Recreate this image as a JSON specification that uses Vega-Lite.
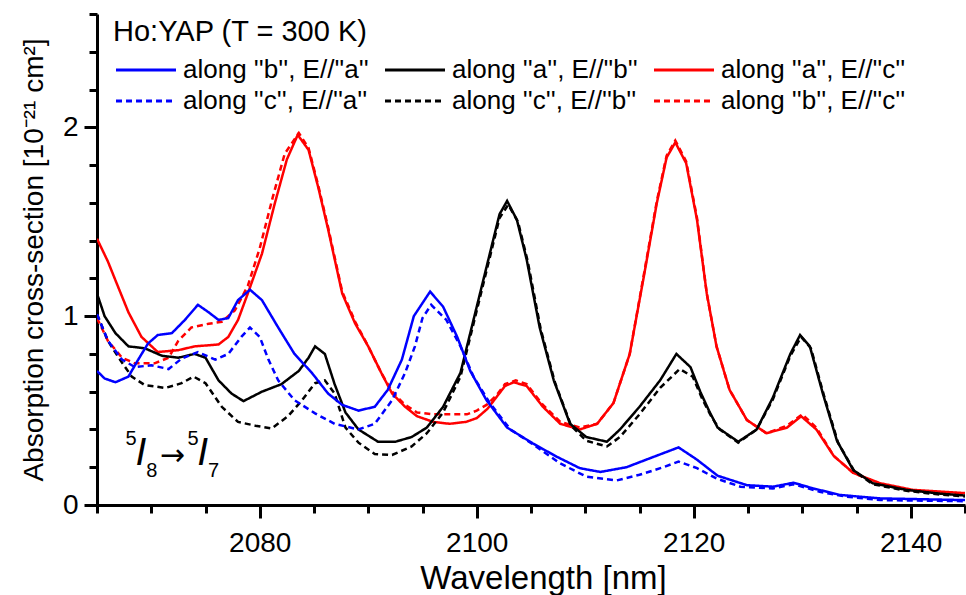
{
  "$schema": "https://vega.github.io/schema/vega-lite/v6.json",
  "width": 868,
  "height": 491,
  "autosize": {"type": "none"},
  "padding": {"left": 97, "top": 14, "right": 1, "bottom": 90},
  "background": "white",
  "config": {
    "font": "Liberation Sans",
    "view": {"stroke": null},
    "axis": {
      "grid": false,
      "domainColor": "black",
      "domainWidth": 3,
      "tickColor": "black",
      "tickWidth": 3,
      "labelColor": "black",
      "titleColor": "black",
      "titleFontWeight": "normal",
      "labelFont": "Liberation Sans",
      "titleFont": "Liberation Sans",
      "labelOverlap": false
    }
  },
  "resolve": {"axis": {"x": "independent", "y": "independent"}},
  "datasets": {
    "names": [
      {"c": "bs", "series": "along ''b'', E//''a''"},
      {"c": "ks", "series": "along ''a'', E//''b''"},
      {"c": "rs", "series": "along ''a'', E//''c''"},
      {"c": "bd", "series": "along ''c'', E//''a''"},
      {"c": "kd", "series": "along ''c'', E//''b''"},
      {"c": "rd", "series": "along ''b'', E//''c''"}
    ],
    "curves": [
      {"c":"rs","x":2065.0,"y":1.41},{"c":"rs","x":2066.0,"y":1.29},{"c":"rs","x":2066.7,"y":1.19},{"c":"rs","x":2067.9,"y":1.02},{"c":"rs","x":2069.1,"y":0.89},{"c":"rs","x":2070.6,"y":0.81},{"c":"rs","x":2072.5,"y":0.82},{"c":"rs","x":2074.0,"y":0.84},{"c":"rs","x":2076.2,"y":0.85},{"c":"rs","x":2077.1,"y":0.89},{"c":"rs","x":2078.0,"y":0.98},{"c":"rs","x":2078.9,"y":1.12},{"c":"rs","x":2080.2,"y":1.33},{"c":"rs","x":2081.4,"y":1.60},{"c":"rs","x":2082.5,"y":1.83},{"c":"rs","x":2083.5,"y":1.96},{"c":"rs","x":2084.5,"y":1.88},{"c":"rs","x":2085.4,"y":1.68},{"c":"rs","x":2086.3,"y":1.46},{"c":"rs","x":2087.6,"y":1.12},{"c":"rs","x":2088.8,"y":0.96},{"c":"rs","x":2090.0,"y":0.84},{"c":"rs","x":2091.2,"y":0.70},{"c":"rs","x":2092.2,"y":0.59},{"c":"rs","x":2093.4,"y":0.52},{"c":"rs","x":2094.5,"y":0.47},{"c":"rs","x":2096.0,"y":0.44},{"c":"rs","x":2097.5,"y":0.43},{"c":"rs","x":2099.0,"y":0.44},{"c":"rs","x":2100.0,"y":0.46},{"c":"rs","x":2101.0,"y":0.51},{"c":"rs","x":2101.8,"y":0.57},{"c":"rs","x":2102.6,"y":0.63},{"c":"rs","x":2103.4,"y":0.65},{"c":"rs","x":2104.6,"y":0.63},{"c":"rs","x":2106.1,"y":0.52},{"c":"rs","x":2107.7,"y":0.43},{"c":"rs","x":2109.5,"y":0.40},{"c":"rs","x":2111.1,"y":0.43},{"c":"rs","x":2112.6,"y":0.54},{"c":"rs","x":2114.1,"y":0.80},{"c":"rs","x":2115.4,"y":1.21},{"c":"rs","x":2116.6,"y":1.60},{"c":"rs","x":2117.5,"y":1.84},{"c":"rs","x":2118.3,"y":1.92},{"c":"rs","x":2119.3,"y":1.81},{"c":"rs","x":2120.3,"y":1.51},{"c":"rs","x":2121.2,"y":1.12},{"c":"rs","x":2122.1,"y":0.84},{"c":"rs","x":2123.3,"y":0.61},{"c":"rs","x":2124.9,"y":0.45},{"c":"rs","x":2126.7,"y":0.38},{"c":"rs","x":2128.6,"y":0.41},{"c":"rs","x":2129.9,"y":0.47},{"c":"rs","x":2131.3,"y":0.40},{"c":"rs","x":2132.9,"y":0.26},{"c":"rs","x":2134.7,"y":0.17},{"c":"rs","x":2137.2,"y":0.115},{"c":"rs","x":2140.2,"y":0.08},{"c":"rs","x":2145.0,"y":0.063},

      {"c":"rd","x":2065.0,"y":0.99},{"c":"rd","x":2066.0,"y":0.87},{"c":"rd","x":2067.3,"y":0.78},{"c":"rd","x":2068.5,"y":0.75},{"c":"rd","x":2070.3,"y":0.75},{"c":"rd","x":2071.6,"y":0.78},{"c":"rd","x":2072.5,"y":0.87},{"c":"rd","x":2073.7,"y":0.94},{"c":"rd","x":2075.3,"y":0.96},{"c":"rd","x":2076.5,"y":0.97},{"c":"rd","x":2077.7,"y":1.03},{"c":"rd","x":2078.9,"y":1.16},{"c":"rd","x":2080.0,"y":1.36},{"c":"rd","x":2081.2,"y":1.63},{"c":"rd","x":2082.3,"y":1.86},{"c":"rd","x":2083.6,"y":1.97},{"c":"rd","x":2084.5,"y":1.89},{"c":"rd","x":2085.4,"y":1.69},{"c":"rd","x":2086.3,"y":1.47},{"c":"rd","x":2087.6,"y":1.13},{"c":"rd","x":2088.8,"y":0.97},{"c":"rd","x":2090.0,"y":0.84},{"c":"rd","x":2091.2,"y":0.70},{"c":"rd","x":2092.2,"y":0.60},{"c":"rd","x":2093.4,"y":0.53},{"c":"rd","x":2094.5,"y":0.49},{"c":"rd","x":2096.0,"y":0.48},{"c":"rd","x":2097.5,"y":0.48},{"c":"rd","x":2099.1,"y":0.48},{"c":"rd","x":2100.0,"y":0.50},{"c":"rd","x":2100.9,"y":0.53},{"c":"rd","x":2101.8,"y":0.58},{"c":"rd","x":2102.6,"y":0.64},{"c":"rd","x":2103.6,"y":0.66},{"c":"rd","x":2104.6,"y":0.64},{"c":"rd","x":2106.1,"y":0.53},{"c":"rd","x":2107.7,"y":0.44},{"c":"rd","x":2109.5,"y":0.41},{"c":"rd","x":2111.1,"y":0.43},{"c":"rd","x":2112.6,"y":0.54},{"c":"rd","x":2114.1,"y":0.80},{"c":"rd","x":2115.4,"y":1.22},{"c":"rd","x":2116.6,"y":1.61},{"c":"rd","x":2117.5,"y":1.85},{"c":"rd","x":2118.3,"y":1.93},{"c":"rd","x":2119.3,"y":1.82},{"c":"rd","x":2120.3,"y":1.52},{"c":"rd","x":2121.2,"y":1.12},{"c":"rd","x":2122.1,"y":0.84},{"c":"rd","x":2123.3,"y":0.61},{"c":"rd","x":2124.9,"y":0.45},{"c":"rd","x":2126.7,"y":0.38},{"c":"rd","x":2128.6,"y":0.42},{"c":"rd","x":2130.0,"y":0.48},{"c":"rd","x":2131.3,"y":0.41},{"c":"rd","x":2132.9,"y":0.26},{"c":"rd","x":2134.7,"y":0.17},{"c":"rd","x":2137.2,"y":0.11},{"c":"rd","x":2140.2,"y":0.075},{"c":"rd","x":2145.0,"y":0.06},

      {"c":"ks","x":2065.0,"y":1.12},{"c":"ks","x":2065.7,"y":1.00},{"c":"ks","x":2066.7,"y":0.91},{"c":"ks","x":2067.9,"y":0.84},{"c":"ks","x":2069.4,"y":0.83},{"c":"ks","x":2071.0,"y":0.79},{"c":"ks","x":2072.5,"y":0.78},{"c":"ks","x":2074.0,"y":0.80},{"c":"ks","x":2075.0,"y":0.78},{"c":"ks","x":2076.2,"y":0.66},{"c":"ks","x":2077.4,"y":0.59},{"c":"ks","x":2078.5,"y":0.55},{"c":"ks","x":2080.2,"y":0.60},{"c":"ks","x":2082.0,"y":0.64},{"c":"ks","x":2083.6,"y":0.71},{"c":"ks","x":2084.5,"y":0.78},{"c":"ks","x":2085.1,"y":0.84},{"c":"ks","x":2086.0,"y":0.80},{"c":"ks","x":2086.9,"y":0.64},{"c":"ks","x":2087.9,"y":0.49},{"c":"ks","x":2089.1,"y":0.40},{"c":"ks","x":2090.9,"y":0.335},{"c":"ks","x":2092.5,"y":0.335},{"c":"ks","x":2094.0,"y":0.36},{"c":"ks","x":2095.4,"y":0.41},{"c":"ks","x":2096.9,"y":0.52},{"c":"ks","x":2098.5,"y":0.70},{"c":"ks","x":2100.0,"y":1.05},{"c":"ks","x":2101.2,"y":1.33},{"c":"ks","x":2102.1,"y":1.54},{"c":"ks","x":2102.8,"y":1.61},{"c":"ks","x":2103.7,"y":1.51},{"c":"ks","x":2104.6,"y":1.30},{"c":"ks","x":2105.8,"y":0.94},{"c":"ks","x":2107.1,"y":0.66},{"c":"ks","x":2108.6,"y":0.43},{"c":"ks","x":2110.1,"y":0.36},{"c":"ks","x":2112.0,"y":0.335},{"c":"ks","x":2113.2,"y":0.40},{"c":"ks","x":2115.0,"y":0.52},{"c":"ks","x":2116.9,"y":0.66},{"c":"ks","x":2118.4,"y":0.80},{"c":"ks","x":2119.7,"y":0.73},{"c":"ks","x":2120.6,"y":0.60},{"c":"ks","x":2121.4,"y":0.50},{"c":"ks","x":2122.2,"y":0.41},{"c":"ks","x":2124.1,"y":0.335},{"c":"ks","x":2125.8,"y":0.40},{"c":"ks","x":2127.3,"y":0.57},{"c":"ks","x":2128.9,"y":0.80},{"c":"ks","x":2129.8,"y":0.90},{"c":"ks","x":2130.7,"y":0.84},{"c":"ks","x":2131.9,"y":0.59},{"c":"ks","x":2133.2,"y":0.34},{"c":"ks","x":2134.7,"y":0.185},{"c":"ks","x":2136.5,"y":0.115},{"c":"ks","x":2139.6,"y":0.08},{"c":"ks","x":2142.7,"y":0.06},{"c":"ks","x":2145.0,"y":0.05},

      {"c":"kd","x":2065.0,"y":1.01},{"c":"kd","x":2066.0,"y":0.87},{"c":"kd","x":2067.0,"y":0.78},{"c":"kd","x":2068.2,"y":0.68},{"c":"kd","x":2069.4,"y":0.635},{"c":"kd","x":2071.3,"y":0.62},{"c":"kd","x":2072.8,"y":0.645},{"c":"kd","x":2073.9,"y":0.68},{"c":"kd","x":2075.0,"y":0.645},{"c":"kd","x":2076.5,"y":0.52},{"c":"kd","x":2078.0,"y":0.44},{"c":"kd","x":2079.6,"y":0.42},{"c":"kd","x":2081.1,"y":0.405},{"c":"kd","x":2082.6,"y":0.47},{"c":"kd","x":2083.9,"y":0.555},{"c":"kd","x":2085.1,"y":0.645},{"c":"kd","x":2086.0,"y":0.66},{"c":"kd","x":2086.9,"y":0.59},{"c":"kd","x":2087.9,"y":0.41},{"c":"kd","x":2089.1,"y":0.33},{"c":"kd","x":2090.6,"y":0.27},{"c":"kd","x":2092.2,"y":0.265},{"c":"kd","x":2094.0,"y":0.31},{"c":"kd","x":2095.4,"y":0.38},{"c":"kd","x":2096.9,"y":0.49},{"c":"kd","x":2098.5,"y":0.68},{"c":"kd","x":2100.0,"y":1.03},{"c":"kd","x":2101.2,"y":1.31},{"c":"kd","x":2102.1,"y":1.52},{"c":"kd","x":2102.9,"y":1.59},{"c":"kd","x":2103.8,"y":1.50},{"c":"kd","x":2104.7,"y":1.29},{"c":"kd","x":2105.9,"y":0.93},{"c":"kd","x":2107.2,"y":0.65},{"c":"kd","x":2108.7,"y":0.42},{"c":"kd","x":2110.1,"y":0.34},{"c":"kd","x":2112.0,"y":0.31},{"c":"kd","x":2113.2,"y":0.36},{"c":"kd","x":2115.0,"y":0.48},{"c":"kd","x":2116.9,"y":0.62},{"c":"kd","x":2118.7,"y":0.72},{"c":"kd","x":2119.9,"y":0.68},{"c":"kd","x":2120.8,"y":0.56},{"c":"kd","x":2121.6,"y":0.47},{"c":"kd","x":2122.4,"y":0.40},{"c":"kd","x":2124.1,"y":0.33},{"c":"kd","x":2125.8,"y":0.40},{"c":"kd","x":2127.3,"y":0.56},{"c":"kd","x":2128.9,"y":0.79},{"c":"kd","x":2129.9,"y":0.89},{"c":"kd","x":2130.8,"y":0.83},{"c":"kd","x":2132.0,"y":0.58},{"c":"kd","x":2133.3,"y":0.33},{"c":"kd","x":2134.8,"y":0.18},{"c":"kd","x":2136.5,"y":0.11},{"c":"kd","x":2139.6,"y":0.075},{"c":"kd","x":2142.7,"y":0.055},{"c":"kd","x":2145.0,"y":0.045},

      {"c":"bs","x":2065.0,"y":0.71},{"c":"bs","x":2065.7,"y":0.67},{"c":"bs","x":2066.7,"y":0.65},{"c":"bs","x":2067.9,"y":0.68},{"c":"bs","x":2068.8,"y":0.77},{"c":"bs","x":2069.7,"y":0.855},{"c":"bs","x":2070.6,"y":0.90},{"c":"bs","x":2071.9,"y":0.91},{"c":"bs","x":2073.1,"y":0.98},{"c":"bs","x":2074.3,"y":1.06},{"c":"bs","x":2075.3,"y":1.02},{"c":"bs","x":2076.2,"y":0.98},{"c":"bs","x":2077.1,"y":0.99},{"c":"bs","x":2078.0,"y":1.085},{"c":"bs","x":2079.1,"y":1.14},{"c":"bs","x":2080.2,"y":1.085},{"c":"bs","x":2081.7,"y":0.94},{"c":"bs","x":2083.2,"y":0.80},{"c":"bs","x":2084.8,"y":0.70},{"c":"bs","x":2086.3,"y":0.59},{"c":"bs","x":2087.6,"y":0.53},{"c":"bs","x":2089.1,"y":0.50},{"c":"bs","x":2090.6,"y":0.52},{"c":"bs","x":2091.8,"y":0.61},{"c":"bs","x":2093.1,"y":0.77},{"c":"bs","x":2094.2,"y":1.00},{"c":"bs","x":2095.7,"y":1.13},{"c":"bs","x":2096.9,"y":1.05},{"c":"bs","x":2098.2,"y":0.89},{"c":"bs","x":2099.4,"y":0.71},{"c":"bs","x":2100.9,"y":0.555},{"c":"bs","x":2102.8,"y":0.41},{"c":"bs","x":2105.2,"y":0.325},{"c":"bs","x":2107.4,"y":0.255},{"c":"bs","x":2109.5,"y":0.195},{"c":"bs","x":2111.4,"y":0.175},{"c":"bs","x":2113.8,"y":0.20},{"c":"bs","x":2116.3,"y":0.255},{"c":"bs","x":2118.6,"y":0.305},{"c":"bs","x":2120.3,"y":0.24},{"c":"bs","x":2122.2,"y":0.155},{"c":"bs","x":2124.9,"y":0.105},{"c":"bs","x":2127.3,"y":0.097},{"c":"bs","x":2129.2,"y":0.118},{"c":"bs","x":2131.0,"y":0.088},{"c":"bs","x":2133.5,"y":0.053},{"c":"bs","x":2137.2,"y":0.035},{"c":"bs","x":2145.0,"y":0.026},

      {"c":"bd","x":2065.0,"y":1.01},{"c":"bd","x":2066.0,"y":0.87},{"c":"bd","x":2067.3,"y":0.77},{"c":"bd","x":2068.5,"y":0.73},{"c":"bd","x":2070.0,"y":0.74},{"c":"bd","x":2071.6,"y":0.72},{"c":"bd","x":2072.8,"y":0.775},{"c":"bd","x":2074.3,"y":0.81},{"c":"bd","x":2075.9,"y":0.77},{"c":"bd","x":2077.1,"y":0.80},{"c":"bd","x":2078.3,"y":0.89},{"c":"bd","x":2079.1,"y":0.94},{"c":"bd","x":2080.0,"y":0.89},{"c":"bd","x":2080.8,"y":0.77},{"c":"bd","x":2081.7,"y":0.66},{"c":"bd","x":2083.2,"y":0.555},{"c":"bd","x":2085.1,"y":0.485},{"c":"bd","x":2086.9,"y":0.43},{"c":"bd","x":2089.1,"y":0.40},{"c":"bd","x":2090.6,"y":0.43},{"c":"bd","x":2092.2,"y":0.555},{"c":"bd","x":2093.4,"y":0.70},{"c":"bd","x":2094.3,"y":0.84},{"c":"bd","x":2095.0,"y":0.99},{"c":"bd","x":2095.8,"y":1.06},{"c":"bd","x":2097.2,"y":0.98},{"c":"bd","x":2098.5,"y":0.84},{"c":"bd","x":2099.7,"y":0.68},{"c":"bd","x":2101.2,"y":0.54},{"c":"bd","x":2103.1,"y":0.40},{"c":"bd","x":2105.2,"y":0.32},{"c":"bd","x":2107.7,"y":0.22},{"c":"bd","x":2110.1,"y":0.15},{"c":"bd","x":2112.9,"y":0.13},{"c":"bd","x":2115.0,"y":0.16},{"c":"bd","x":2117.2,"y":0.20},{"c":"bd","x":2118.6,"y":0.23},{"c":"bd","x":2120.3,"y":0.195},{"c":"bd","x":2122.1,"y":0.14},{"c":"bd","x":2124.3,"y":0.097},{"c":"bd","x":2127.3,"y":0.088},{"c":"bd","x":2129.2,"y":0.11},{"c":"bd","x":2131.6,"y":0.07},{"c":"bd","x":2134.1,"y":0.044},{"c":"bd","x":2137.2,"y":0.026},{"c":"bd","x":2145.0,"y":0.02}
    ],
    "annot": [
      {"role": "small", "t": "5", "x": 2068.15, "y": 0.35},
      {"role": "big", "t": "I", "x": 2069.05, "y": 0.275},
      {"role": "small", "t": "8", "x": 2070.05, "y": 0.18},
      {"role": "arrow", "t": "→", "x": 2071.95, "y": 0.258},
      {"role": "small", "t": "5", "x": 2073.85, "y": 0.35},
      {"role": "big", "t": "I", "x": 2074.75, "y": 0.275},
      {"role": "small", "t": "7", "x": 2075.75, "y": 0.18}
    ]
  },
  "layer": [
    {
      "data": {"name": "curves"},
      "transform": [
        {"lookup": "c", "from": {"data": {"name": "names"}, "key": "c", "fields": ["series"]}}
      ],
      "mark": {"type": "line", "strokeWidth": 2.5, "clip": true},
      "encoding": {
        "x": {
          "field": "x",
          "type": "quantitative",
          "scale": {"domain": [2065, 2145], "nice": false, "zero": false},
          "axis": {
            "orient": "bottom",
            "title": "Wavelength [nm]",
            "titleFontSize": 33,
            "titlePadding": 5,
            "titleX": 446,
            "labelFontSize": 28,
            "format": "d",
            "values": [2080, 2100, 2120, 2140],
            "tickSize": 13,
            "labelPadding": 11
          }
        },
        "y": {
          "field": "y",
          "type": "quantitative",
          "scale": {"domain": [0, 2.6], "nice": false, "zero": true},
          "axis": {
            "orient": "left",
            "title": "Absorption cross-section [10⁻²¹ cm²]",
            "titleFontSize": 28,
            "titlePadding": 14,
            "labelFontSize": 28,
            "format": "d",
            "values": [0, 1, 2],
            "tickSize": 13,
            "labelPadding": 6
          }
        },
        "color": {
          "field": "series",
          "type": "nominal",
          "scale": {
            "domain": ["along ''b'', E//''a''", "along ''a'', E//''b''", "along ''a'', E//''c''", "along ''c'', E//''a''", "along ''c'', E//''b''", "along ''b'', E//''c''"],
            "range": ["#0000ff", "#000000", "#ff0000", "#0000ff", "#000000", "#ff0000"]
          },
          "legend": {
            "title": "Ho:YAP (T = 300 K)",
            "orient": "none",
            "legendX": 16,
            "legendY": 4,
            "direction": "horizontal",
            "columns": 3,
            "symbolType": "M-1,0H5",
            "symbolSize": 400,
            "symbolStrokeWidth": 3,
            "labelFontSize": 26,
            "labelLimit": 400,
            "labelOffset": 44,
            "labelColor": "black",
            "columnPadding": 10,
            "rowPadding": 5,
            "titleFontSize": 29,
            "titleFontWeight": "normal",
            "titleColor": "black",
            "titlePadding": 10,
            "titleLimit": 600
          }
        },
        "strokeDash": {
          "field": "series",
          "type": "nominal",
          "scale": {
            "domain": ["along ''b'', E//''a''", "along ''a'', E//''b''", "along ''a'', E//''c''", "along ''c'', E//''a''", "along ''c'', E//''b''", "along ''b'', E//''c''"],
            "range": [[1, 0], [1, 0], [1, 0], [6, 4], [6, 4], [6, 4]]
          },
          "legend": {
            "title": "Ho:YAP (T = 300 K)",
            "orient": "none",
            "legendX": 16,
            "legendY": 4,
            "direction": "horizontal",
            "columns": 3,
            "symbolType": "M-1,0H5",
            "symbolSize": 400,
            "symbolStrokeWidth": 3,
            "labelFontSize": 26,
            "labelLimit": 400,
            "labelOffset": 44,
            "labelColor": "black",
            "columnPadding": 10,
            "rowPadding": 5,
            "titleFontSize": 29,
            "titleFontWeight": "normal",
            "titleColor": "black",
            "titlePadding": 10,
            "titleLimit": 600
          }
        }
      }
    },
    {
      "data": {"name": "annot"},
      "transform": [{"filter": "datum.role === 'small'"}],
      "mark": {"type": "text", "fontSize": 20, "align": "center", "baseline": "middle", "color": "black"},
      "encoding": {
        "x": {
          "field": "x",
          "type": "quantitative",
          "axis": {
            "orient": "bottom",
            "title": null,
            "labels": false,
            "domain": false,
            "values": [2065, 2070, 2075, 2085, 2090, 2095, 2105, 2110, 2115, 2125, 2130, 2135, 2145],
            "tickSize": 8
          }
        },
        "y": {
          "field": "y",
          "type": "quantitative",
          "axis": {
            "orient": "left",
            "title": null,
            "labels": false,
            "domain": false,
            "values": [0.2, 0.4, 0.6, 0.8, 1.2, 1.4, 1.6, 1.8, 2.2, 2.4, 2.6],
            "tickSize": 8
          }
        },
        "text": {"field": "t"}
      }
    },
    {
      "data": {"name": "annot"},
      "transform": [{"filter": "datum.role === 'big'"}],
      "mark": {"type": "text", "fontSize": 39, "fontStyle": "italic", "align": "center", "baseline": "middle", "color": "black"},
      "encoding": {
        "x": {"field": "x", "type": "quantitative", "axis": null},
        "y": {"field": "y", "type": "quantitative", "axis": null},
        "text": {"field": "t"}
      }
    },
    {
      "data": {"name": "annot"},
      "transform": [{"filter": "datum.role === 'arrow'"}],
      "mark": {"type": "text", "fontSize": 30, "font": "DejaVu Sans", "align": "center", "baseline": "middle", "color": "black"},
      "encoding": {
        "x": {"field": "x", "type": "quantitative", "axis": null},
        "y": {"field": "y", "type": "quantitative", "axis": null},
        "text": {"field": "t"}
      }
    }
  ]
}
